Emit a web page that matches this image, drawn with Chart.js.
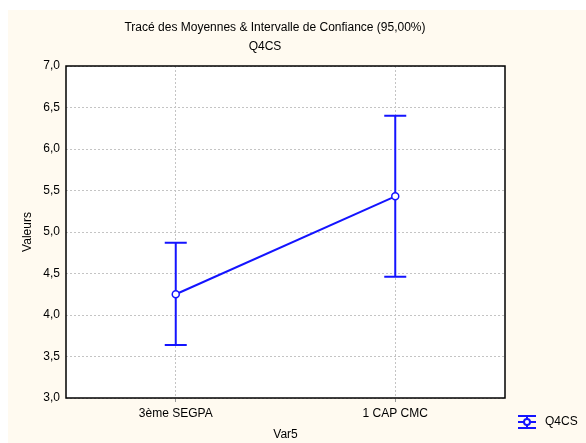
<!DOCTYPE html>
<html>
<head>
<meta charset="utf-8">
<script src="https://cdn.jsdelivr.net/npm/chart.js@4.4.1/dist/chart.umd.min.js"></script>
<style>
html,body{margin:0;padding:0;background:#ffffff;}
#wrap{position:relative;width:586px;height:443px;}
canvas{display:block;}
</style>
</head>
<body>
<div id="wrap"><canvas id="c" width="586" height="443"></canvas></div>
<script>
const categories = ['3ème SEGPA', '1 CAP CMC'];
const meanValues = [4.25, 5.43];
const upperValues = [4.87, 6.40];
const lowerValues = [3.64, 4.46];
const yTicks = [3.0, 3.5, 4.0, 4.5, 5.0, 5.5, 6.0, 6.5, 7.0];
const titleText = 'Tracé des Moyennes & Intervalle de Confiance (95,00%)';
const subtitleText = 'Q4CS';
const seriesName = 'Q4CS';
const xTitle = 'Var5';
const yTitle = 'Valeurs';

const BLUE = '#1414ff';
const FONT = '"Liberation Sans", Arial, sans-serif';
const FS = 12;

const decor = {
  id: 'decor',
  beforeDraw(chart) {
    const ctx = chart.ctx, a = chart.chartArea;
    ctx.save();
    ctx.fillStyle = '#ffffff';
    ctx.fillRect(0, 0, chart.width, chart.height);
    ctx.fillStyle = '#fffaf0';
    ctx.fillRect(8, 10, chart.width - 8, chart.height - 10);
    ctx.fillStyle = '#ffffff';
    ctx.fillRect(a.left, a.top, a.right - a.left, a.bottom - a.top);
    ctx.fillStyle = '#000';
    ctx.font = FS + 'px ' + FONT;
    ctx.textAlign = 'center';
    ctx.textBaseline = 'middle';
    ctx.fillText(titleText, 275, 28);
    ctx.fillText(subtitleText, 265, 46.5);
    ctx.restore();
  },
  afterDatasetsDraw(chart) {
    const ctx = chart.ctx;
    const xs = chart.scales.x, ys = chart.scales.y;
    ctx.save();
    ctx.strokeStyle = BLUE;
    ctx.lineWidth = 2;
    for (let i = 0; i < categories.length; i++) {
      const x = xs.getPixelForValue(i);
      const yu = ys.getPixelForValue(upperValues[i]);
      const yl = ys.getPixelForValue(lowerValues[i]);
      const ym = ys.getPixelForValue(meanValues[i]);
      ctx.beginPath();
      ctx.moveTo(x, yu); ctx.lineTo(x, ym - 3.5);
      ctx.moveTo(x, ym + 3.5); ctx.lineTo(x, yl);
      ctx.moveTo(x - 11, yu); ctx.lineTo(x + 11, yu);
      ctx.moveTo(x - 11, yl); ctx.lineTo(x + 11, yl);
      ctx.stroke();
    }
    ctx.restore();
  },
  afterDraw(chart) {
    const ctx = chart.ctx, a = chart.chartArea;
    ctx.save();
    ctx.strokeStyle = '#000';
    ctx.lineWidth = 1.5;
    ctx.strokeRect(a.left, a.top, a.right - a.left, a.bottom - a.top);
    const lx = 518, ly = 422, w = 18;
    ctx.strokeStyle = BLUE;
    ctx.lineWidth = 2;
    ctx.beginPath();
    ctx.moveTo(lx, ly - 6); ctx.lineTo(lx + w, ly - 6);
    ctx.moveTo(lx, ly + 6); ctx.lineTo(lx + w, ly + 6);
    ctx.moveTo(lx, ly); ctx.lineTo(lx + w, ly);
    ctx.moveTo(lx + w / 2, ly - 6); ctx.lineTo(lx + w / 2, ly + 6);
    ctx.stroke();
    ctx.beginPath();
    ctx.arc(lx + w / 2, ly, 3, 0, Math.PI * 2);
    ctx.fillStyle = '#fff';
    ctx.fill();
    ctx.stroke();
    ctx.fillStyle = '#000';
    ctx.font = FS + 'px ' + FONT;
    ctx.textAlign = 'left';
    ctx.textBaseline = 'middle';
    ctx.fillText(seriesName, 545, ly);
    ctx.restore();
  }
};

new Chart(document.getElementById('c'), {
  type: 'line',
  data: {
    labels: categories,
    datasets: [{
      label: seriesName,
      data: meanValues,
      borderColor: BLUE,
      borderWidth: 2,
      backgroundColor: '#ffffff',
      pointBackgroundColor: '#ffffff',
      pointBorderColor: BLUE,
      pointBorderWidth: 1.5,
      pointRadius: 3.5,
      tension: 0,
      fill: false
    }]
  },
  options: {
    responsive: false,
    animation: false,
    devicePixelRatio: 1,
    layout: { padding: { left: 8, right: 81, top: 66, bottom: 0 } },
    plugins: {
      legend: { display: false },
      title: { display: false },
      tooltip: { enabled: false }
    },
    scales: {
      x: {
        type: 'category',
        offset: true,
        grid: {
          offset: false,
          color: '#c4c4c4',
          lineWidth: 1,
          tickLength: 4,
          drawTicks: true,
          tickColor: '#9a9a9a'
        },
        border: { display: false, dash: [2, 2] },
        ticks: { color: '#000', font: { family: FONT, size: FS }, padding: 4, maxRotation: 0 },
        title: { display: true, text: xTitle, color: '#000', font: { family: FONT, size: FS }, padding: { top: 0, bottom: 1 } },
        afterFit(s) { s.height = 45; }
      },
      y: {
        type: 'linear',
        min: 3, max: 7,
        afterBuildTicks(s) { s.ticks = yTicks.map(v => ({ value: v })); },
        grid: { color: '#c4c4c4', lineWidth: 1, drawTicks: false },
        border: { display: false, dash: [2, 2] },
        ticks: {
          color: '#000', font: { family: FONT, size: FS }, padding: 6,
          callback: v => Number(v).toFixed(1).replace('.', ',')
        },
        title: { display: true, text: yTitle, color: '#000', font: { family: FONT, size: FS }, padding: { top: 12, bottom: 0 } },
        afterFit(s) { s.width = 58; }
      }
    }
  },
  plugins: [decor]
});
</script>
</body>
</html>
